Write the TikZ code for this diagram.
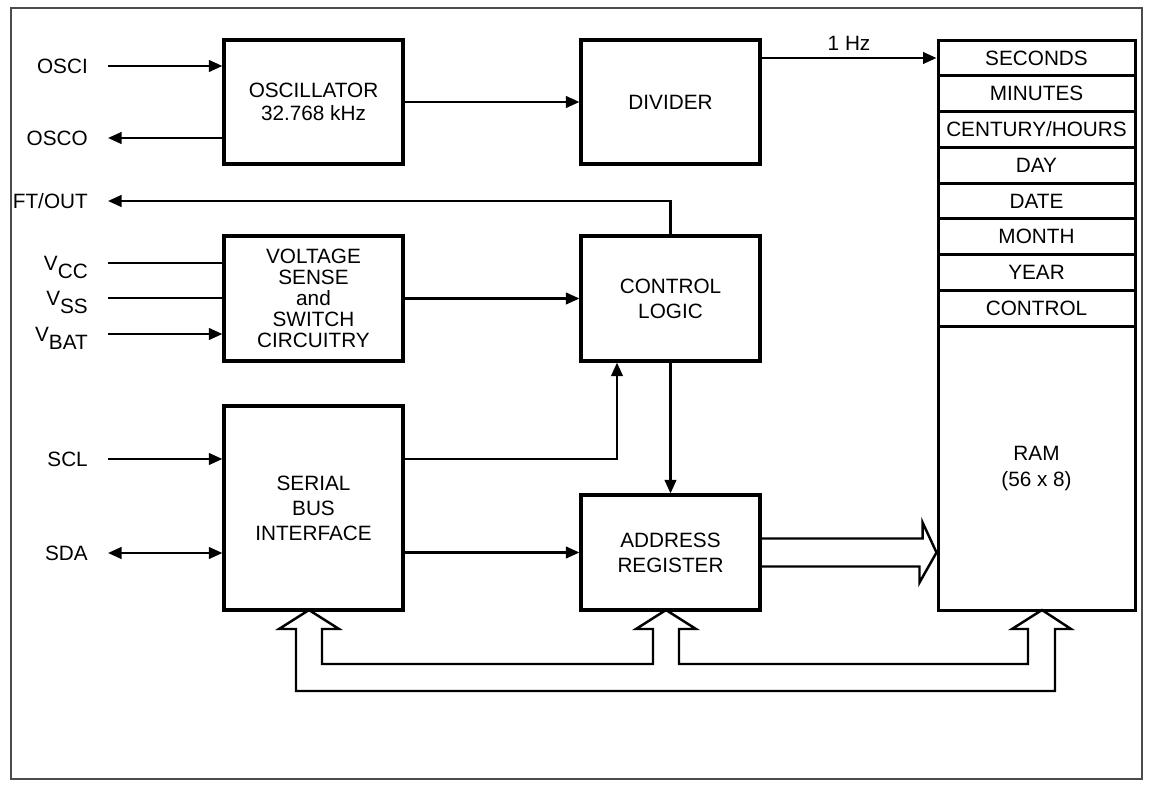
\documentclass[tikz,border=0pt]{standalone}
\usepackage{fontspec}
\setmainfont{Liberation Sans}
\usetikzlibrary{arrows.meta,positioning}

\tikzset{
  block/.style={draw, line width=1.8pt, minimum width=3.58cm, minimum height=2.48cm, align=center},
  reg/.style={draw, line width=1.7pt, minimum width=3.94cm, minimum height=0.715cm, inner sep=0pt},
  pinlabel/.style={anchor=east, inner xsep=0.38cm, inner ysep=0pt, text height=8.4pt, text depth=0pt},
}
\newcommand{\lowsub}[1]{\smash{\raisebox{-4.6pt}{#1}}}

\begin{document}
\begin{tikzpicture}[font=\fontsize{11.8pt}{14.2pt}\selectfont,
    >={Triangle[length=0.27cm,width=0.23cm]}, line width=1.4pt, on grid]
    \useasboundingbox (0,0) rectangle (23,-15.74);
    \draw[black!70, line width=0.8pt] (0.22,-0.16) rectangle (22.84,-15.58);

    % main blocks
    \node[block, font=\fontsize{11.8pt}{13pt}\selectfont] (osc) at (6.27,-2.04) {OSCILLATOR\\32.768 kHz};
    \node[block] (div) [right=7.14cm of osc] {DIVIDER};
    \node[block, minimum height=2.5cm, font=\fontsize{11.8pt}{12pt}\selectfont] (volt) [below=3.93cm of osc] {VOLTAGE\\SENSE\\and\\SWITCH\\CIRCUITRY};
    \node[block, minimum height=2.5cm] (ctrl) [right=7.14cm of volt] {CONTROL\\LOGIC};
    \node[block, minimum height=4.08cm] (sbi) [below=4.19cm of volt] {SERIAL\\BUS\\INTERFACE};
    \node[block, minimum height=2.3cm] (addr) [below=5.08cm of ctrl] {ADDRESS\\REGISTER};

    % clock registers and ram
    \node[reg] (sec) at (20.73,-1.16) {SECONDS};
    \node[reg] (min) [below=0.715cm of sec] {MINUTES};
    \node[reg] (hrs) [below=0.715cm of min] {CENTURY/HOURS};
    \node[reg] (day) [below=0.715cm of hrs] {DAY};
    \node[reg] (date) [below=0.715cm of day] {DATE};
    \node[reg] (month) [below=0.715cm of date] {MONTH};
    \node[reg] (year) [below=0.715cm of month] {YEAR};
    \node[reg] (creg) [below=0.715cm of year] {CONTROL};
    \node[reg, minimum height=5.68cm, align=center, font=\fontsize{11.8pt}{14.8pt}\selectfont] (ram) [below=3.2cm of creg] {RAM\\(56 x 8)};

    % pins
    \node[pinlabel] (osci) at (2.16,-1.32) {OSCI};
    \node[pinlabel] (osco) at (2.16,-2.76) {OSCO};
    \node[pinlabel] (ftout) at (2.16,-4.02) {FT/OUT};
    \node[pinlabel] (vcc) at (2.16,-5.26) {V\lowsub{CC}};
    \node[pinlabel] (vss) at (2.16,-5.96) {V\lowsub{SS}};
    \node[pinlabel] (vbat) at (2.16,-6.68) {V\lowsub{BAT}};
    \node[pinlabel] (scl) at (2.16,-9.18) {SCL};
    \node[pinlabel] (sda) at (2.16,-11.06) {SDA};

    \draw[->] (osci) -- (osci -| osc.west);
    \draw[<-] (osco) -- (osco -| osc.west);
    \draw (vcc) -- (vcc -| volt.west);
    \draw (vss) -- (vss -| volt.west);
    \draw[->] (vbat) -- (vbat -| volt.west);
    \draw[->] (scl) -- (scl -| sbi.west);
    \draw[<->] (sda) -- (sda -| sbi.west);

    \path[->]
        (osc) edge (div)
        (volt) edge (ctrl)
        (ctrl) edge (addr);
    \draw[->] (div.east |- sec) -- node[above] (hz) {1 Hz} (sec);
    \draw[->] (ctrl.north) |- (ftout);
    \draw[->] (sbi.east |- scl) -| ([xshift=-1.07cm]ctrl.south);
    \draw[->] (sbi.east |- addr) -- (addr);

    % wide arrow into ram
    \draw ([yshift=0.28cm]addr.east) -- ++(3.22,0) -- ++(0,0.32) -- (ram.west |- addr.east)
        -- ++(-0.34,-0.6) -- ++(0,0.32) -- ([yshift=-0.28cm]addr.east);

    % internal bus
    \draw (5.92,-13.82) -- (5.92,-12.58) -- (5.58,-12.58) -- (6.18,-12.2) -- (6.78,-12.58)
        -- (6.44,-12.58) -- (6.44,-13.28) -- (13.06,-13.28) -- (13.06,-12.58) -- (12.72,-12.58)
        -- (13.32,-12.2) -- (13.92,-12.58) -- (13.58,-12.58) -- (13.58,-13.28) -- (20.56,-13.28)
        -- (20.56,-12.58) -- (20.24,-12.58) -- (20.84,-12.2) -- (21.42,-12.58) -- (21.1,-12.58)
        -- (21.1,-13.82) -- cycle;
\end{tikzpicture}
\end{document}
